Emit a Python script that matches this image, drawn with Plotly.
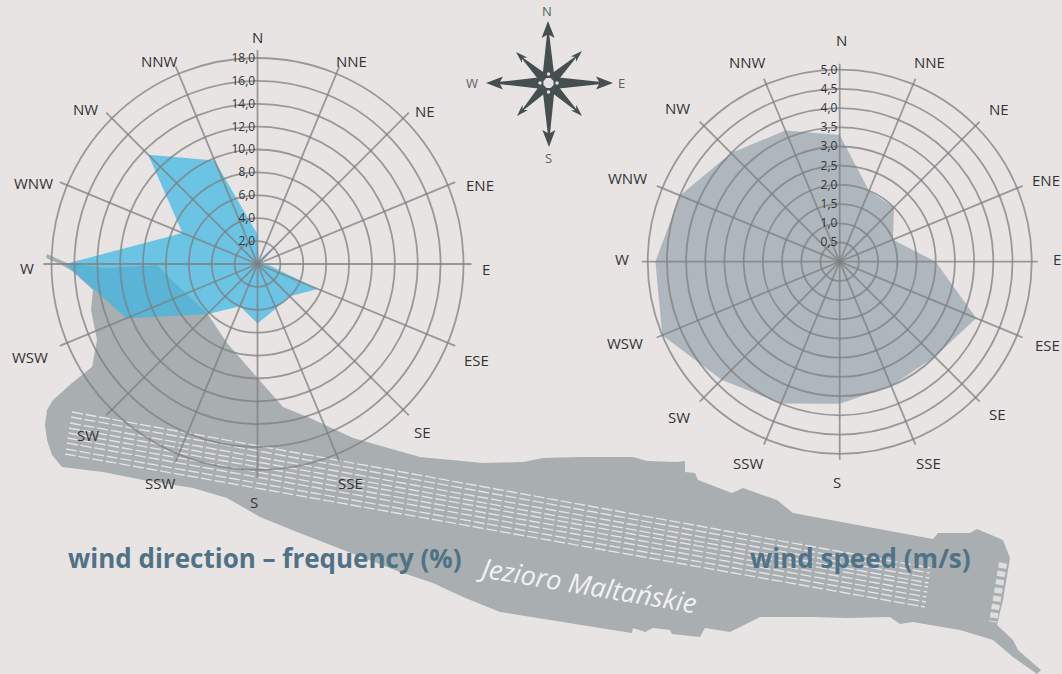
import math
import plotly.graph_objects as go

W, H = 1062, 674
directions = ["N","NNE","NE","ENE","E","ESE","SE","SSE","S","SSW","SW","WSW","W","WNW","NW","NNW"]
frequency = [2.6,0.3,3.6,0.3,0.8,5.7,4.0,4.2,5.2,4.0,6.2,12.4,16.8,7.1,13.5,9.8]
speed = [3.3,2.0,2.0,1.5,2.5,3.85,3.5,3.5,3.7,4.0,4.35,5.0,4.8,4.5,4.0,3.7]
freq_ticks = [2,4,6,8,10,12,14,16,18]
freq_labels = ["2,0","4,0","6,0","8,0","10,0","12,0","14,0","16,0","18,0"]
speed_ticks = [0.5,1,1.5,2,2.5,3,3.5,4,4.5,5]
speed_labels = ["0,5","1,0","1,5","2,0","2,5","3,0","3,5","4,0","4,5","5,0"]

left_label_pos = [(257,37),(351,61),(425,111),(480,185),(486,269),(476,360),(422,432),(350,483),
                  (254,502),(160,483),(88,435),(30,357),(27,268),(33,183),(85,109),(159,61)]
right_label_pos = [(841,40),(929,62),(999,109),(1046,180),(1057,259),(1047,345),(997,414),(928,463),
                   (837,482),(748,463),(679,417),(625,343),(622,259),(627,178),(677,108),(747,62)]

lake_x = [47,67,107,157,170,207,227,257,283,310,353,420,483,523,543,580,633,647,677,685,685,695,698,732,743,777,793,
          933,938,970,977,1003,1010,1003,997,1013,1018,1041,1037,1013,993,960,913,900,890,847,813,760,730,705,700,672,
          670,653,645,633,632,600,550,500,463,433,400,343,297,260,227,193,143,103,73,62,52,47,45,47,53,72,92,97,91,93,72,60,46]
lake_y = [254,263,268,265,278,313,343,377,407,418,438,457,463,462,458,457,457,461,462,461,472,473,480,493,488,500,513,
          539,533,533,529,540,558,600,625,640,650,670,674,657,640,630,622,624,617,618,617,617,632,628,637,634,
          630,628,632,628,633,628,620,612,597,583,572,550,532,517,498,488,480,472,468,467,455,440,425,410,400,383,367,340,310,290,271,264,258]

lane_x0 = [72,71,70,69,68.5,67.5,67,66,65]
lane_y0 = [412,417,423,428,433,438,443,449,454]
lane_x1 = [930,929.5,929,928.5,928,927,926.5,926,925]
lane_y1 = [568,573,578,583,587,592,597,602,607]

compass_tips = [(548,21),(582,51),(613,83),(582,116),(549,147),(517,116),(486,83),(516,52)]
compass_center = (548.5, 83)
compass_letters = [("N",547,11),("E",621,83),("S",548,158),("W",472,83)]

fig = go.Figure()
BG = "#e8e4e4"
# lake
fig.add_trace(go.Scatter(x=lake_x, y=lake_y, mode="lines", fill="toself", fillcolor="#a9aeb1",
                         line=dict(width=0), hoverinfo="skip"))
for a, b, c, d in zip(lane_x0, lane_y0, lane_x1, lane_y1):
    fig.add_trace(go.Scatter(x=[a,c], y=[b,d], mode="lines", hoverinfo="skip",
                             line=dict(color="#e3e3e4", width=1.4, dash="11px,2.8px")))
fig.add_trace(go.Scatter(x=[1003,993], y=[563,622], mode="lines", hoverinfo="skip",
                         line=dict(color="#dedede", width=8, dash="5.3px,3.1px")))

# compass
def poly(cx, cy, dx, dy, pts):
    xs, ys = [], []
    for r, s in pts:
        xs.append(cx + dx*r - dy*s)
        ys.append(cy + dy*r + dx*s)
    xs.append(xs[0]); ys.append(ys[0])
    return xs, ys
cx, cy = compass_center
DARK = "#454f50"
for i, (tx, ty) in enumerate(compass_tips):
    L = math.hypot(tx-cx, ty-cy)
    dx, dy = (tx-cx)/L, (ty-cy)/L
    if i % 2 == 0:
        shape = [(6,-6),(L-14,-1.2),(L-17,-6.5),(L,0),(L-17,6.5),(L-14,1.2),(6,6)]
    else:
        shape = [(6,-5),(L-9,-0.8),(L-12,-3.8),(L,0),(L-12,3.8),(L-9,0.8),(6,5)]
    xs, ys = poly(cx, cy, dx, dy, shape)
    fig.add_trace(go.Scatter(x=xs, y=ys, mode="lines", fill="toself", fillcolor=DARK,
                             line=dict(width=0), hoverinfo="skip"))
for rad, col in [(11, DARK), (5.5, "#e4e2e0")]:
    xs = [cx + rad*math.cos(math.pi/8 + k*math.pi/4) for k in range(9)]
    ys = [cy + rad*math.sin(math.pi/8 + k*math.pi/4) for k in range(9)]
    fig.add_trace(go.Scatter(x=xs, y=ys, mode="lines", fill="toself", fillcolor=col,
                             line=dict(width=0), hoverinfo="skip"))
fig.add_trace(go.Scatter(x=[cx-8.5,cx+8.5,cx,cx], y=[cy,cy,cy-9,cy+9], mode="markers", hoverinfo="skip",
                         marker=dict(color="#e4e2e0", size=3.5)))

closed = directions + directions[:1]
fig.add_trace(go.Scatterpolar(subplot="polar", r=frequency+frequency[:1], theta=closed, mode="lines", fill="toself",
                              fillcolor="rgba(58,183,230,0.71)", line=dict(width=0), hoverinfo="skip"))
fig.add_trace(go.Scatterpolar(subplot="polar2", r=[0], theta=directions[:1], mode="lines",
                              line=dict(width=0), hoverinfo="skip"))
fig.add_trace(go.Scatterpolar(subplot="polar3", r=speed+speed[:1], theta=closed, mode="lines", fill="toself",
                              fillcolor="#aeb7bd", line=dict(width=0), hoverinfo="skip"))
fig.add_trace(go.Scatterpolar(subplot="polar4", r=[0], theta=directions[:1], mode="lines",
                              line=dict(width=0), hoverinfo="skip"))

GRID = "rgba(125,127,127,0.75)"
def polar(cx, cy, R, rmax, ticks, labels, grid):
    return dict(
        domain=dict(x=[(cx-R)/W, (cx+R)/W], y=[1-(cy+R)/H, 1-(cy-R)/H]),
        bgcolor="rgba(0,0,0,0)",
        angularaxis=dict(type="category", categoryorder="array", categoryarray=directions, rotation=90,
                         direction="clockwise", showticklabels=False, ticks="", showline=False,
                         showgrid=grid, gridcolor=GRID, gridwidth=1.8),
        radialaxis=dict(range=[0, rmax], angle=90, side="counterclockwise", showline=False, ticks="",
                        tickmode="array", tickvals=ticks, ticktext=labels, tickangle=90,
                        showticklabels=grid, showgrid=grid, gridcolor=GRID, gridwidth=1.8,
                        tickfont=dict(family="Open Sans", size=12, color="#333333")),
    )

ann = []
for name, (x, y) in zip(directions, left_label_pos):
    ann.append(dict(x=x, y=y, text=name, showarrow=False, xref="x", yref="y",
                    font=dict(family="Open Sans", size=15, color="#333333")))
for name, (x, y) in zip(directions, right_label_pos):
    ann.append(dict(x=x, y=y, text=name, showarrow=False, xref="x", yref="y",
                    font=dict(family="Open Sans", size=15, color="#333333")))
for name, x, y in compass_letters:
    ann.append(dict(x=x, y=y, text=name, showarrow=False, xref="x", yref="y",
                    font=dict(family="Open Sans", size=13, color="#5c6263")))
TITLE = dict(family="Open Sans", size=26, color="#4f7286")
ann.append(dict(x=264.5, y=558, text="<b>wind direction – frequency (%)</b>", showarrow=False, xref="x", yref="y", font=TITLE))
ann.append(dict(x=860, y=558, text="<b>wind speed (m/s)</b>", showarrow=False, xref="x", yref="y", font=TITLE))
ann.append(dict(x=587, y=584, text="<i>Jezioro Maltańskie</i>", textangle=9.6, showarrow=False, xref="x", yref="y",
                font=dict(family="Open Sans", size=27, color="#f0f2f3")))

fig.update_layout(
    width=W, height=H, margin=dict(l=0,r=0,t=0,b=0), autosize=False, showlegend=False,
    paper_bgcolor=BG, plot_bgcolor=BG,
    xaxis=dict(range=[0,W], visible=False, domain=[0,1], fixedrange=True),
    yaxis=dict(range=[H,0], visible=False, domain=[0,1], fixedrange=True),
    polar=polar(257.5,264,214,18.7,freq_ticks,freq_labels,False),
    polar2=polar(257.5,264,214,18.7,freq_ticks,freq_labels,True),
    polar3=polar(839.7,261.7,198,5.156,speed_ticks,speed_labels,False),
    polar4=polar(839.7,261.7,198,5.156,speed_ticks,speed_labels,True),
    annotations=ann,
)
fig.write_html("out.html", config=dict(displayModeBar=False, staticPlot=True),
               post_script="document.body.style.margin='0';document.body.style.background='%s';document.body.style.overflow='hidden';" % BG)
